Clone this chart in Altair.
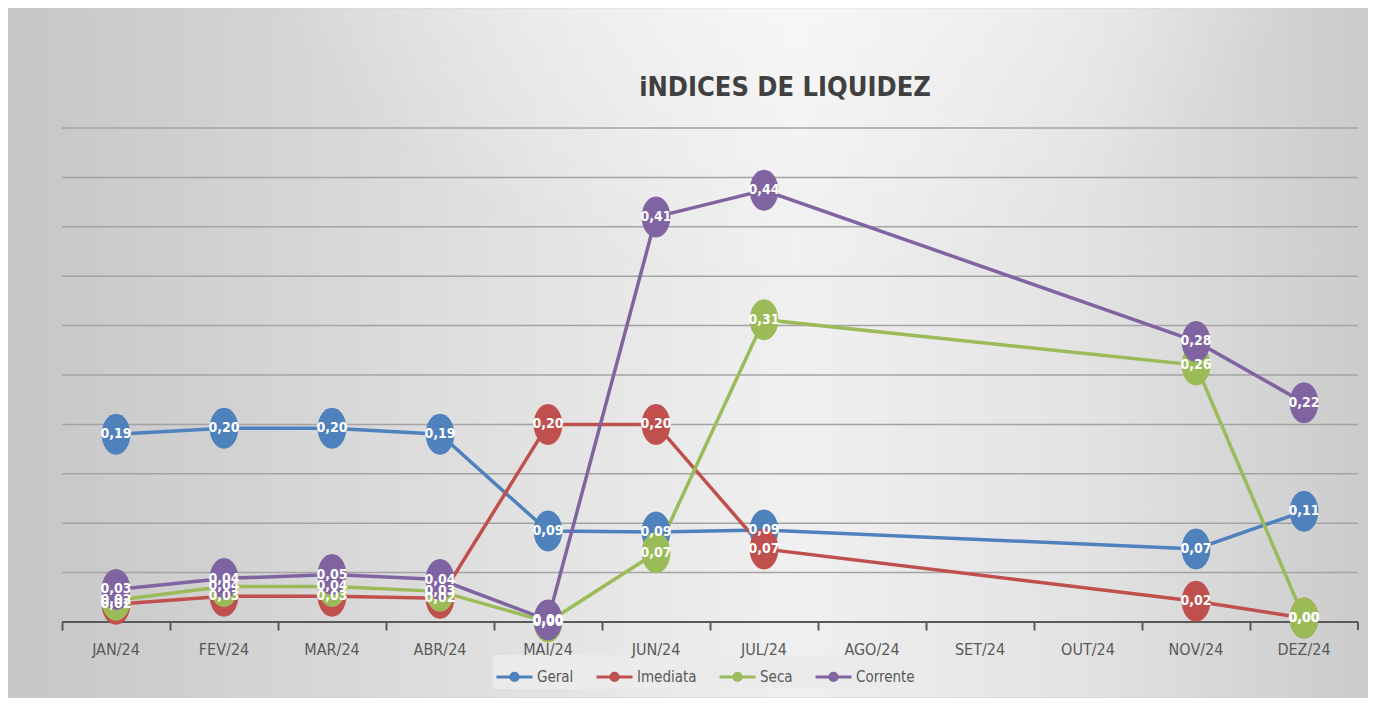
import altair as alt
import pandas as pd

months = ["JAN/24", "FEV/24", "MAR/24", "ABR/24", "MAI/24", "JUN/24",
          "JUL/24", "AGO/24", "SET/24", "OUT/24", "NOV/24", "DEZ/24"]
series_names = ["Geral", "Imediata", "Seca", "Corrente"]
series_colors = ["#4f81bd", "#c0504d", "#9bbb59", "#8064a2"]

geral = [0.19, 0.196, 0.196, 0.19, 0.092, 0.091, 0.093, None, None, None, 0.074, 0.112]
imediata = [0.018, 0.026, 0.026, 0.024, 0.20, 0.20, 0.074, None, None, None, 0.021, 0.004]
seca = [0.022, 0.036, 0.036, 0.031, 0.0, 0.07, 0.306, None, None, None, 0.26, 0.004]
corrente = [0.033, 0.044, 0.048, 0.043, 0.002, 0.41, 0.437, None, None, None, 0.284, 0.222]

grid_values = [0.05, 0.10, 0.15, 0.20, 0.25, 0.30, 0.35, 0.40, 0.45, 0.50]
baseline_value = [0.0]

rows = []
for s_idx, (name, vals) in enumerate(zip(series_names, [geral, imediata, seca, corrente])):
    for m_idx, (m, v) in enumerate(zip(months, vals)):
        if v is None:
            continue
        rows.append({"mes": m, "idx": m_idx, "serie": name, "ordem": s_idx,
                     "valor": v, "rotulo": f"{v:.2f}".replace(".", ",")})
df = pd.DataFrame(rows)
grid_df = pd.DataFrame({"v": grid_values})
base_df = pd.DataFrame({"v": baseline_value})

FONT = "DejaVu Sans Condensed, Liberation Sans Narrow, sans-serif"
W, H = 1296, 494
PAD = {"left": 54, "top": 120, "right": 10, "bottom": 76}
y_scale = alt.Scale(domain=[0, 0.5], nice=False, zero=True)

x_enc = alt.X("mes:N", sort=months,
              scale=alt.Scale(type="band", domain=months, paddingInner=0, paddingOuter=0),
              bandPosition=0.5,
              axis=alt.Axis(title=None, labelAngle=0, bandPosition=0, grid=False,
                            domain=False, zindex=1,
                            tickColor="#595959", tickWidth=2, tickSize=8,
                            labelColor="#595959", labelFont=FONT, labelFontSize=16,
                            labelPadding=11))
y_enc = alt.Y("valor:Q", scale=y_scale, axis=None)

legend_symbol = ("M-1,0L1,0 "
                 "M0.2,0A0.2,0.2 0 1,1 -0.2,0A0.2,0.2 0 1,1 0.2,0 "
                 "M0.1,0A0.1,0.1 0 1,1 -0.1,0A0.1,0.1 0 1,1 0.1,0")
legend = alt.Legend(title=None, orient="none", legendX=431, legendY=527,
                    direction="horizontal", columns=4,
                    symbolType=legend_symbol, symbolSize=1296, symbolStrokeWidth=3,
                    labelFont=FONT, labelFontSize=15, labelColor="#595959",
                    labelOffset=3, columnPadding=16, padding=2, fillColor="#ebebeb")
color_enc = alt.Color("serie:N", sort=series_names,
                      scale=alt.Scale(domain=series_names, range=series_colors),
                      legend=legend)

bg_data = alt.Data(values=[{"k": 1}])
bg_base = alt.Chart(bg_data).mark_rect(
    clip=False, stroke="#cdcdcd", strokeWidth=1,
    fill={"gradient": "linear", "x1": 0, "y1": 0, "x2": 1, "y2": 0,
          "stops": [{"offset": 0, "color": "#c6c6c6"},
                    {"offset": 0.3, "color": "#dcdcdc"},
                    {"offset": 0.58, "color": "#f0f0f0"},
                    {"offset": 0.8, "color": "#e2e2e2"},
                    {"offset": 1, "color": "#cbcbcb"}]}
).encode(x=alt.value(-PAD["left"]), x2=alt.value(W + PAD["right"]),
         y=alt.value(-PAD["top"]), y2=alt.value(H + PAD["bottom"]))
bg_glow = alt.Chart(bg_data).mark_rect(
    clip=False,
    fill={"gradient": "radial", "x1": 0.57, "y1": 0.0, "r1": 0, "x2": 0.57, "y2": 0.0, "r2": 0.45,
          "stops": [{"offset": 0, "color": "rgba(255,255,255,0.95)"},
                    {"offset": 1, "color": "rgba(255,255,255,0)"}]}
).encode(x=alt.value(-PAD["left"]), x2=alt.value(W + PAD["right"]),
         y=alt.value(-PAD["top"]), y2=alt.value(H + PAD["bottom"]))

gridlines = alt.Chart(grid_df).mark_rule(color="#a3a3a3", strokeWidth=1.5).encode(
    y=alt.Y("v:Q", scale=y_scale, axis=None))
baseline = alt.Chart(base_df).mark_rule(color="#595959", strokeWidth=2).encode(
    y=alt.Y("v:Q", scale=y_scale, axis=None))
end_tick = alt.Chart(bg_data).mark_rule(color="#595959", strokeWidth=2).encode(
    x=alt.value(W), y=alt.value(H), y2=alt.value(H + 8))

base = alt.Chart(df)
lines = base.mark_line(strokeWidth=3.5).encode(
    x=x_enc, y=y_enc, color=color_enc, order=alt.Order("idx:Q"))
ellipse = "M0,-1A0.7,1 0 1,1 0,1A0.7,1 0 1,1 0,-1Z"
points = base.mark_point(shape=ellipse, filled=True, size=1681, opacity=1, strokeWidth=0).encode(
    x=x_enc, y=y_enc, color=color_enc)
labels = base.mark_text(color="white", font=FONT, fontSize=14, fontWeight="bold",
                        baseline="middle", align="center").encode(
    x=x_enc, y=y_enc, text="rotulo:N")

chart = alt.layer(bg_base, bg_glow, gridlines, baseline, end_tick, lines, points, labels).properties(
    width=W, height=H,
    title=alt.TitleParams("iNDICES DE LIQUIDEZ", font=FONT, fontSize=27, fontWeight="bold",
                          color="#404040", anchor="middle", frame="group",
                          dx=75, dy=94, offset=0, zindex=1),
    autosize=alt.AutoSizeParams(type="none"),
    padding=PAD,
).configure_view(stroke=None).configure(background="#ffffff")

chart.save("out.html", embed_options={"renderer": "svg", "actions": False})
